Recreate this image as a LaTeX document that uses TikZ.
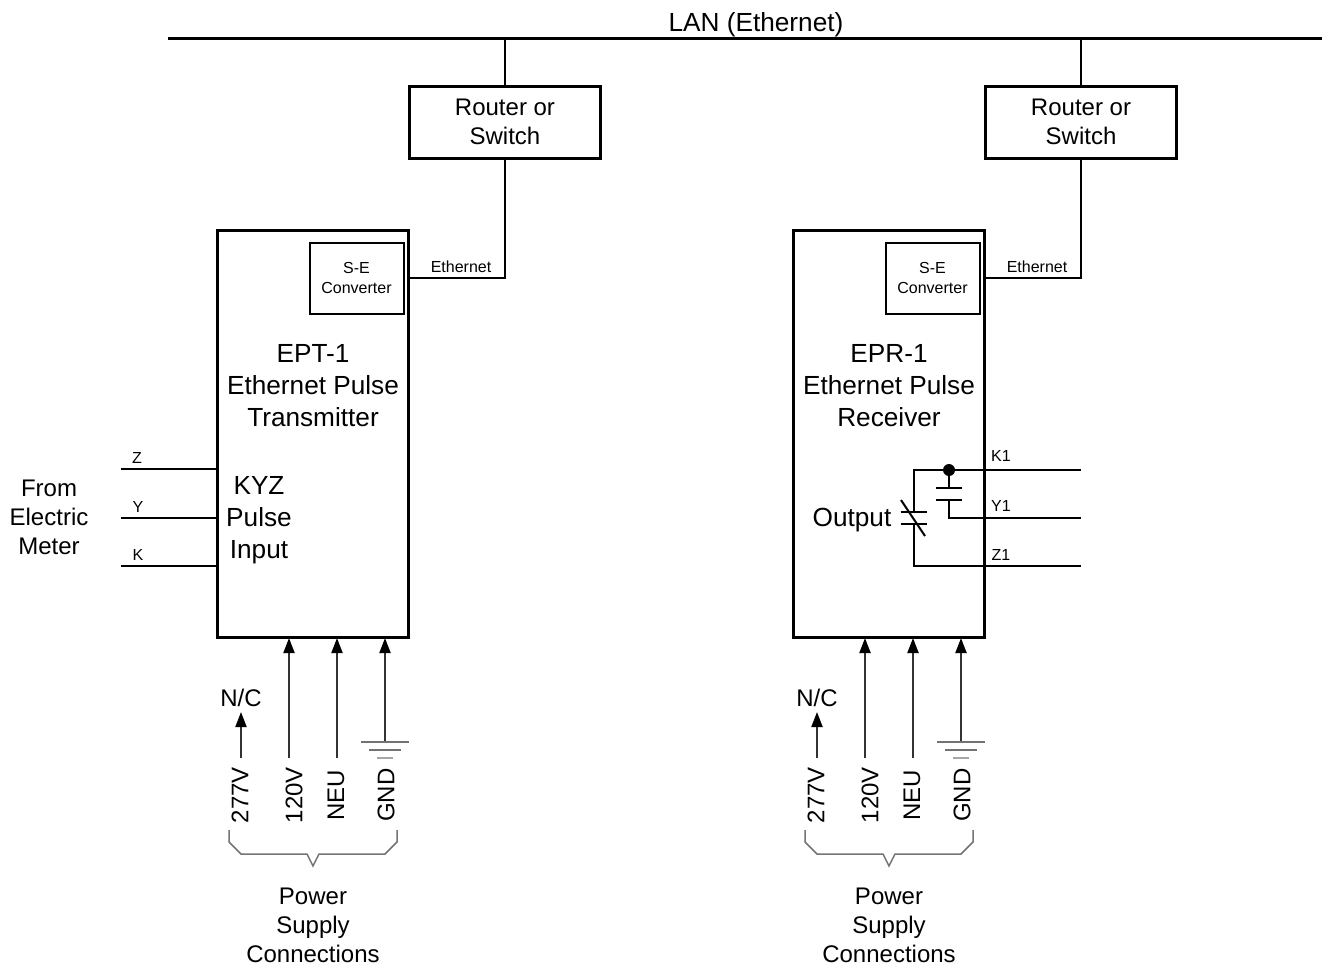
\documentclass[tikz,border=0pt]{standalone}
\usepackage{fontspec}
\setmainfont{Liberation Sans}
\usetikzlibrary{arrows.meta,calc}
\newcommand{\bigfont}{\fontsize{26.2}{32}\selectfont}
\newcommand{\midfont}{\fontsize{24}{28.7}\selectfont}
\tikzset{
  big/.style={font=\bigfont,inner sep=0pt,align=center,anchor=center},
  mid/.style={font=\midfont,inner sep=0pt,align=center,anchor=center},
  small/.style={font=\fontsize{16}{20}\selectfont,inner sep=0pt,align=center,anchor=center},
  heavybox/.style={draw=black,line width=3pt,minimum width=191.4pt,inner sep=0pt,align=center},
  thinbox/.style={draw=black,line width=2pt,inner sep=0pt,align=center},
  wire/.style={draw=black,line width=2pt},
  feed/.style={draw=black!80,line width=2pt,-{Triangle[length=15pt,width=11pt,fill=black,color=black]}},
  brace/.style={draw=black!55,line width=1.5pt},
  rot/.style={mid,rotate=90}
}
\newcommand{\commonparts}{%
  \node[heavybox,minimum height=72pt,font=\midfont] (router) at (505,122) {Router or\\Switch};
  \node[heavybox,minimum height=407pt] (main) at (313,433.5) {};
  \node[thinbox,minimum width=94pt,minimum height=71pt,font=\fontsize{16}{20}\selectfont] (conv) at (356.5,278) {S-E\\Converter};
  \path[wire] (router.north) -- (router.north |- lanl);
  \path[wire] (main.east |- conv.east) -- (router.south |- conv.east) -- (router.south);
  \node[small] (ethlabel) at (461,267) {Ethernet};
  % power feeds
  \coordinate (b277) at (241,758);
  \coordinate (t277) at (241,712);
  \coordinate (b120) at (289,758);
  \coordinate (t120) at (289,638);
  \coordinate (bneu) at (337,758);
  \coordinate (tneu) at (337,638);
  \coordinate (gnd) at (385,742);
  \coordinate (tgnd) at (385,638);
  \path[feed] (b277) -- (t277);
  \path[feed] (b120) -- (t120);
  \path[feed] (bneu) -- (tneu);
  \path[feed] (gnd) -- (tgnd);
  \draw[black!55,line width=1.6pt] ($(gnd)+(-24,0)$) -- ($(gnd)+(24,0)$);
  \draw[black!55,line width=1.6pt] ($(gnd)+(-16,8)$) -- ($(gnd)+(16,8)$);
  \draw[black!35,line width=1.6pt] ($(gnd)+(-8,16)$) -- ($(gnd)+(8,16)$);
  \node[mid] (nc) at (241,698) {N/C};
  \node[rot] (l277) at (240,795) {277V};
  \node[rot] (l120) at (294,795) {120V};
  \node[rot] (lneu) at (336,795) {NEU};
  \node[rot] (lgnd) at (386,795) {GND};
  \path[brace] (229,830) -- (229,842) -- (241,854) -- (307,854) -- (313,866) -- (319,854) -- (385,854) -- (397,842) -- (397,830);
  \node[mid] (psu) at (313,925.5) {Power\\Supply\\Connections};
}
\begin{document}
\begin{tikzpicture}[x=1pt,y=-1pt]
\useasboundingbox (0,0) rectangle (1323,964);
\coordinate (lanl) at (168,38);
\coordinate (lanr) at (1322,38);
\draw[black,line width=3pt] (lanl) -- (lanr);
\node[big] (lan) at (756,25) {LAN (Ethernet)};

\begin{scope}
  \commonparts
  \node[big] (ept) at (313,386) {EPT-1\\Ethernet Pulse\\Transmitter};
  \node[big] (kyz) at (259,520) {KYZ\\Pulse\\Input};
  \node[mid] (from) at (49,517.5) {From\\Electric\\Meter};
  \coordinate (zend) at (121,469);
  \coordinate (yend) at (121,518);
  \coordinate (kend) at (121,566);
  \path[wire] (zend) -- (zend -| main.west);
  \path[wire] (yend) -- (yend -| main.west);
  \path[wire] (kend) -- (kend -| main.west);
  \node[small] (zl) at (137,458) {Z};
  \node[small] (yl) at (138,507) {Y};
  \node[small] (kl) at (138,555) {K};
\end{scope}

\begin{scope}[shift={(576,0)},name prefix=r-]
  \commonparts
  \node[big] (epr) at (313,386) {EPR-1\\Ethernet Pulse\\Receiver};
  \node[big,anchor=base] (out) at (276,526) {Output};
  \coordinate (k1) at (505,470);
  \coordinate (y1) at (505,518);
  \coordinate (z1) at (505,566);
  \coordinate (nct) at (337.5,512);
  \coordinate (ncb) at (337.5,524);
  \coordinate (capt) at (373,488);
  \coordinate (capb) at (373,500);
  \node[circle,fill=black,inner sep=0pt,minimum size=12pt] (dot) at (373,470) {};
  \path[wire] (k1) -- (k1 -| nct) -- (nct);
  \path[wire] (z1) -- (z1 -| ncb) -- (ncb);
  \path[wire] (dot) -- (capt);
  \path[wire] (capb) -- (capb |- y1) -- (y1);
  \path[wire] ($(capt)+(-13,0)$) -- ($(capt)+(13,0)$);
  \path[wire] ($(capb)+(-13,0)$) -- ($(capb)+(13,0)$);
  \path[wire] ($(nct)+(-13,0)$) -- ($(nct)+(13,0)$);
  \path[wire] ($(ncb)+(-13,0)$) -- ($(ncb)+(13,0)$);
  \path[wire] (325,500) -- (349,536);
  \node[small] (k1l) at (425,456) {K1};
  \node[small] (y1l) at (425,506) {Y1};
  \node[small] (z1l) at (425,555) {Z1};
\end{scope}
\end{tikzpicture}
\end{document}
